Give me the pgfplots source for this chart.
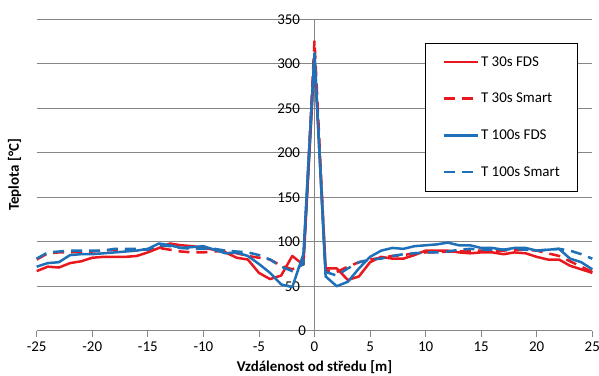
\documentclass[border=0pt]{standalone}
\usepackage{fontspec}
\setmainfont{Carlito}
\usepackage{pgfplots}
\pgfplotsset{compat=1.18}
\definecolor{gridgray}{RGB}{134,134,134}
\definecolor{exred}{RGB}{232,24,30}
\definecolor{exblue}{RGB}{30,112,184}
\pgfplotsset{
  mylegimg/.style={legend image code/.code={\draw[##1, line width=2.5bp] (0bp,0bp) -- (34bp,0bp);}},
}
\newcommand{\chfont}{\fontsize{15}{17}\selectfont}
\begin{document}
\begin{tikzpicture}
\path[use as bounding box] (-36.7bp,-45.3bp) rectangle (562.3bp,330.7bp);
\begin{axis}[
  at={(0,0)}, anchor=south west,
  width=555.6bp, height=311.4bp, scale only axis,
  xmin=-25, xmax=25, ymin=0, ymax=350,
  xtick={-25,-20,...,25}, ytick={0,50,...,350},
  axis x line=bottom, axis y line=center,
  axis line style={draw=gridgray, line width=0.75bp, -},
  ymajorgrids, grid style={draw=gridgray, line width=0.75bp},
  tick align=outside, major tick length=6bp,
  xtick style={draw=gridgray, line width=0.75bp},
  ytick style={draw=none},
  /pgf/number format/assume math mode=true,
  ticklabel style={font=\chfont},
  yticklabel style={anchor=east, xshift=-5bp},
  xticklabel style={anchor=north, yshift=-2bp},
  every axis y label/.style={at={(rel axis cs:0,0.5)}, xshift=-22bp, rotate=90, anchor=center, font=\chfont\bfseries},
  every axis x label/.style={at={(rel axis cs:0.5,0)}, anchor=center, yshift=-36bp, font=\chfont\bfseries},
  xlabel={Vzdálenost od středu [m]},
  ylabel={Teplota [°C]},
  mylegimg,
  legend style={at={(rel axis cs:0.9725,0.925)}, anchor=north east, draw=black, fill=white,
    font=\chfont, inner xsep=17bp, inner ysep=13.5bp, row sep=25.5bp, column sep=2bp,
    nodes={inner sep=0bp}},
  legend cell align=left,
  clip=false,
]
\addplot[exred, line width=2.5bp, line join=round] coordinates {
(-25,67) (-24,72) (-23,71) (-22,76) (-21,78) (-20,82) (-19,83) (-18,83) (-17,83) (-16,84)
(-15,88) (-14,93) (-13,98) (-12,96) (-11,95) (-10,93) (-9,91) (-8,88) (-7,82) (-6,80)
(-5,65) (-4,58) (-3,62) (-2,84) (-1,74) (0,305) (1,70) (2,70) (3,57) (4,61)
(5,77) (6,83) (7,81) (8,81) (9,85) (10,90) (11,90) (12,90) (13,88) (14,87)
(15,88) (16,88) (17,86) (18,88) (19,87) (20,83) (21,80) (22,80) (23,73) (24,69) (25,65)};
\addlegendentry{T 30s FDS}
\addplot[exred, line width=2.5bp, dash pattern=on 11bp off 7bp] coordinates {
(-25,80) (-24,87) (-23,88) (-22,88) (-21,89) (-20,89) (-19,90) (-18,91) (-17,91) (-16,91)
(-15,91) (-14,93) (-13,91) (-12,89) (-11,88) (-10,88) (-9,89) (-8,90) (-7,87) (-6,84)
(-5,82) (-4,80) (-3,73) (-2,69) (-1,75) (0,326) (1,68) (2,66) (3,72) (4,77)
(5,80) (6,82) (7,84) (8,85) (9,87) (10,88) (11,88) (12,89) (13,89) (14,90)
(15,90) (16,90) (17,90) (18,91) (19,91) (20,90) (21,87) (22,84) (23,78) (24,72) (25,66)};
\addlegendentry{T 30s Smart}
\addplot[exblue, line width=2.5bp, line join=round] coordinates {
(-25,72) (-24,76) (-23,77) (-22,85) (-21,86) (-20,86) (-19,87) (-18,88) (-17,89) (-16,90)
(-15,92) (-14,98) (-13,96) (-12,93) (-11,94) (-10,95) (-9,91) (-8,87) (-7,88) (-6,84)
(-5,75) (-4,65) (-3,52) (-2,49) (-1,86) (0,312) (1,61) (2,50) (3,55) (4,70)
(5,83) (6,90) (7,93) (8,92) (9,95) (10,96) (11,97) (12,99) (13,96) (14,96)
(15,93) (16,93) (17,91) (18,93) (19,93) (20,90) (21,91) (22,92) (23,81) (24,77) (25,69)};
\addlegendentry{T 100s FDS}
\addplot[exblue, line width=2.5bp, dash pattern=on 11bp off 7bp] coordinates {
(-25,81) (-24,88) (-23,89) (-22,90) (-21,90) (-20,90) (-19,90) (-18,92) (-17,92) (-16,92)
(-15,91) (-14,96) (-13,95) (-12,93) (-11,92) (-10,92) (-9,92) (-8,90) (-7,89) (-6,88)
(-5,85) (-4,80) (-3,72) (-2,67) (-1,75) (0,310) (1,66) (2,62) (3,70) (4,77)
(5,80) (6,81) (7,84) (8,86) (9,87) (10,88) (11,88) (12,89) (13,91) (14,92)
(15,91) (16,91) (17,91) (18,92) (19,91) (20,90) (21,91) (22,92) (23,90) (24,86) (25,81)};
\addlegendentry{T 100s Smart}
\node[anchor=east, font=\chfont, inner sep=0.333em, xshift=-5bp] at (axis cs:0,0) {0};
\end{axis}
\end{tikzpicture}
\end{document}
